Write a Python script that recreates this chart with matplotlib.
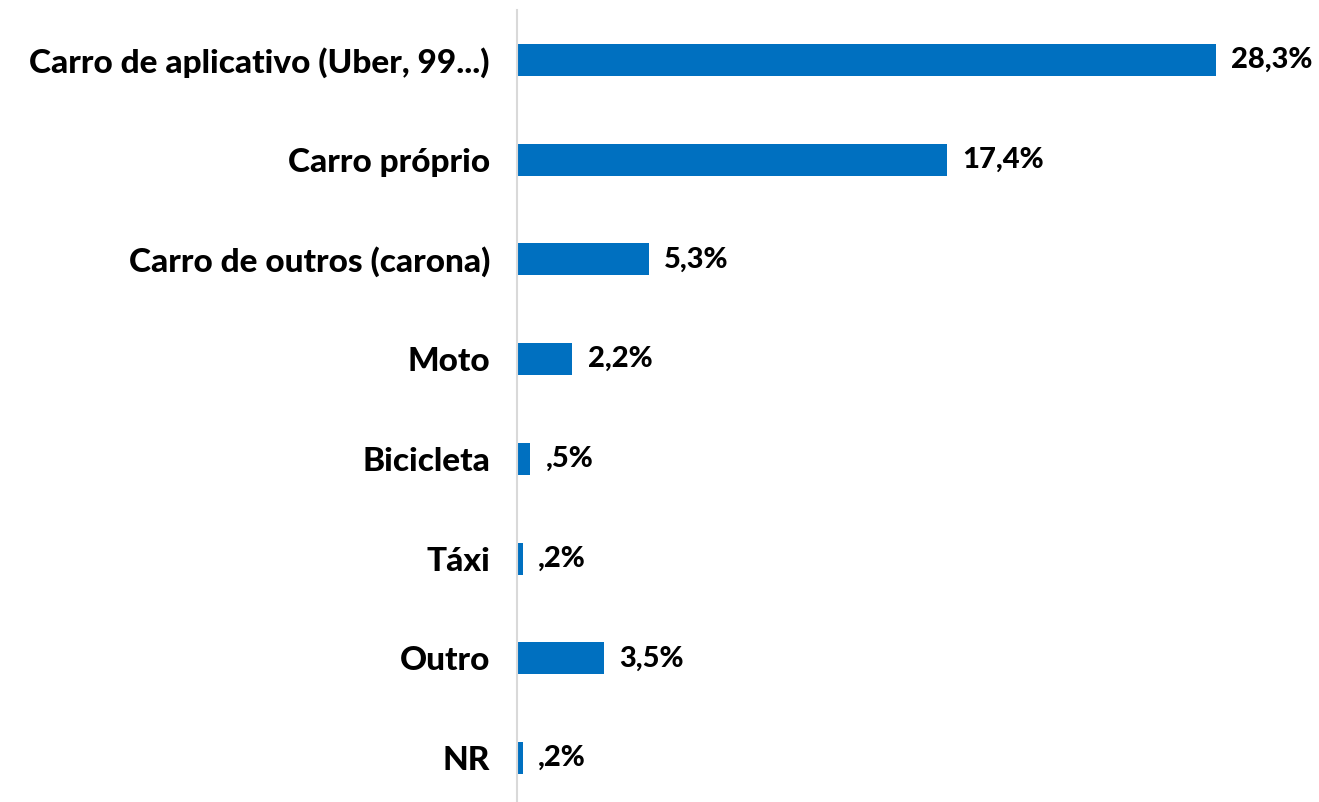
import matplotlib
matplotlib.use("Agg")
import matplotlib.pyplot as plt

categories = ["Carro de aplicativo (Uber, 99...)", "Carro próprio", "Carro de outros (carona)",
              "Moto", "Bicicleta", "Táxi", "Outro", "NR"]
values = [28.3, 17.4, 5.3, 2.2, 0.5, 0.2, 3.5, 0.2]
value_labels = ["28,3%", "17,4%", "5,3%", "2,2%", ",5%", ",2%", "3,5%", ",2%"]

plt.rcParams['font.family'] = ['Lato', 'DejaVu Sans']

W, H = 1319, 802
fig = plt.figure(figsize=(W / 100, H / 100), dpi=100)
left = 517 / W
top_px, bot_px = 10, 808
ax = fig.add_axes([left, 1 - bot_px / H, 740 / W, (bot_px - top_px) / H])

y = list(range(len(categories)))
ax.barh(y, values, height=0.32, color="#0070C0", left=0.04)
ax.set_ylim(len(categories) - 0.5, -0.5)
ax.set_xlim(0, 740 / 24.66)

for yi, v, lab in zip(y, values, value_labels):
    ax.annotate(lab, (v + 0.04, yi), xytext=(11, 0), textcoords="offset points",
                ha="left", va="center", fontsize=21, fontweight="black", color="black")

ax.set_yticks(y)
ax.set_yticklabels(categories, fontsize=24, fontweight="black")
ax.tick_params(axis="y", length=0, pad=19.5)
ax.set_xticks([])
for s in ["top", "right", "bottom"]:
    ax.spines[s].set_visible(False)
ax.spines["left"].set_color("#d9d9d9")
ax.spines["left"].set_linewidth(1.5)

fig.savefig("out.png", dpi=100, facecolor="white")
